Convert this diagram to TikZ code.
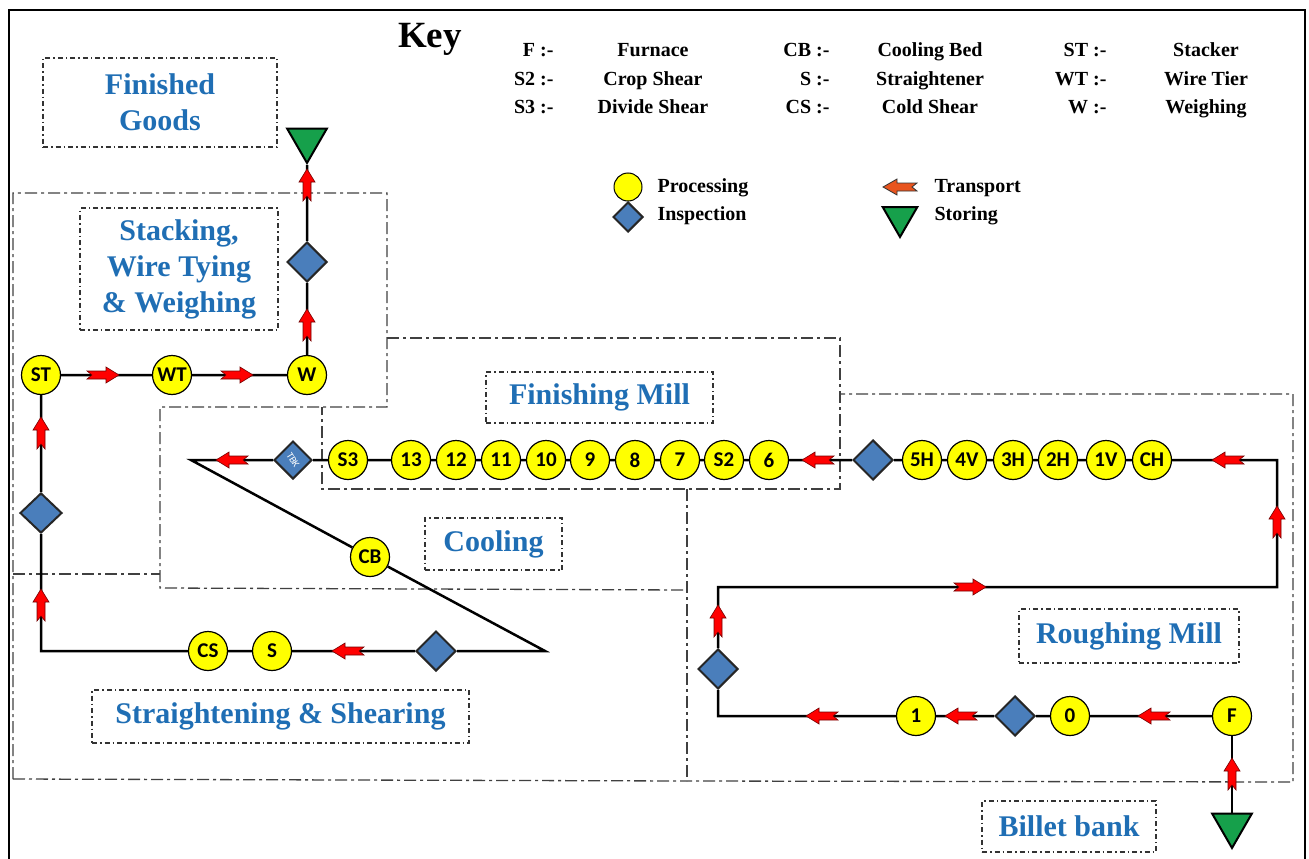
\documentclass[tikz,border=0pt]{standalone}
\usepackage{fontspec}
\setmainfont{Liberation Serif}
\newfontfamily\calib{Carlito}
\usetikzlibrary{shapes.geometric}

\definecolor{procyel}{RGB}{255,255,0}
\definecolor{inspblue}{RGB}{74,126,187}
\definecolor{storgreen}{RGB}{22,160,75}
\definecolor{lblblue}{RGB}{31,110,180}
\definecolor{arrred}{RGB}{255,0,0}
\definecolor{keyorange}{RGB}{232,84,30}

\tikzset{
  proc/.style={circle, draw=black, line width=1.2pt, fill=procyel, minimum size=39pt, inner sep=0pt,
    font=\calib\bfseries\fontsize{21}{21}\selectfont},
  insp/.style={diamond, draw=black!85, line width=2pt, fill=inspblue, minimum width=40pt, minimum height=40pt, inner sep=0pt},
  stor/.style={regular polygon, regular polygon sides=3, shape border rotate=180, draw=black, line width=2pt,
    fill=storgreen, minimum size=46pt, inner sep=0pt},
  flow/.style={line width=2.5pt, black},
  region/.style={draw=black!75, line width=1.3pt, dash pattern=on 12pt off 4pt on 3pt off 4pt},
  lblbox/.style={draw=black!80, line width=1.1pt, dash pattern=on 5pt off 3pt on 1.5pt off 3pt, text=lblblue,
    font=\bfseries\fontsize{30}{36}\selectfont, align=center, inner sep=0pt},
  keytxt/.style={font=\bfseries\fontsize{20}{20}\selectfont},
  transp/.pic={\draw[draw=red!45!black, line width=.6pt, fill=arrred]
    (-16,-4) -- (3,-4) -- (3,-8) -- (16,0) -- (3,8) -- (3,4) -- (-16,4) -- (-11,0) -- cycle;},
  keyarr/.pic={\draw[draw=black!80, line width=.8pt, fill=keyorange]
    (-17,-4) -- (3,-4) -- (3,-8) -- (17,0) -- (3,8) -- (3,4) -- (-17,4) -- (-12,0) -- cycle;}
}

\begin{document}
\begin{tikzpicture}[x=1pt,y=-1pt]
\useasboundingbox (0,0) rectangle (1309,859);
\draw[line width=2.5pt] (9,880) -- (9,10) -- (1305,10) -- (1305,880);

% key
\node[anchor=base, font=\bfseries\fontsize{37}{37}\selectfont] (key) at (430,48) {Key};
\foreach \ab/\nm/\y in {F/Furnace/57, S2/Crop Shear/85, S3/Divide Shear/113}{
  \node[keytxt, anchor=base east] (k\ab) at (557,\y) {\ab\ :-};
  \node[keytxt, anchor=base] (n\ab) at (653,\y) {\nm};}
\foreach \ab/\nm/\y in {CB/Cooling Bed/57, S/Straightener/85, CS/Cold Shear/113}{
  \node[keytxt, anchor=base east] (k\ab) at (833,\y) {\ab\ :-};
  \node[keytxt, anchor=base] (n\ab) at (930,\y) {\nm};}
\foreach \ab/\nm/\y in {ST/Stacker/57, WT/Wire Tier/85, W/Weighing/113}{
  \node[keytxt, anchor=base east] (k\ab) at (1110,\y) {\ab\ :-};
  \node[keytxt, anchor=base] (n\ab) at (1206,\y) {\nm};}

\node[proc, minimum size=28pt, line width=1pt] (lproc) at (628,187) {};
\node[insp, minimum width=30pt, minimum height=30pt] (linsp) at (628,217) {};
\node[keytxt, anchor=west] (tproc) at (654,188) {Processing};
\node[keytxt, anchor=west] (tinsp) at (654,216) {Inspection};
\pic[rotate=180] at (900,187) {keyarr};
\node[stor, minimum size=40pt] (lstor) at (900,217) {};
\node[keytxt, anchor=west] (ttransp) at (931,188) {Transport};
\node[keytxt, anchor=west] (tstor) at (931,216) {Storing};

% regions
\draw[region] (13,779) -- (13,193) -- (387,193) -- (387,407) -- (160,407) -- (160,588) -- (687,590);
\draw[region] (13,574) -- (160,574);
\draw[region] (13,779) -- (687,781) -- (1293,782) -- (1293,394) -- (840,394);
\draw[region] (387,338) -- (840,338) -- (840,489) -- (322,489) -- (322,407);
\draw[region] (687,489) -- (687,781);

\node[lblbox, minimum width=234pt, minimum height=89pt] (lfg) at (160,102.5) {Finished\\Goods};
\node[lblbox, minimum width=198pt, minimum height=122pt] (lst) at (179,269) {Stacking,\\Wire Tying\\\& Weighing};
\node[lblbox, minimum width=227pt, minimum height=51pt] (lfm) at (599.5,397.5) {Finishing Mill};
\node[lblbox, minimum width=137pt, minimum height=52pt] (lcool) at (493.5,544) {Cooling};
\node[lblbox, minimum width=377pt, minimum height=53pt] (lss) at (280.5,716.5) {Straightening \& Shearing};
\node[lblbox, minimum width=220pt, minimum height=54pt] (lrm) at (1129,636) {Roughing Mill};
\node[lblbox, minimum width=174pt, minimum height=51pt] (lbb) at (1069,826.5) {Billet bank};

% roughing mill
\node[stor] (BB) at (1232,825) {};
\node[proc] (F) at (1232,716) {F};
\node[proc] (r0) at (1070,716) {0};
\node[insp] (dr1) at (1015,716) {};
\node[proc] (r1) at (916,716) {1};
\coordinate (cr1) at (718,716);
\node[insp] (dr2) at (718,669) {};
\coordinate (cr2) at (718,587);
\coordinate (cr3) at (1277,587);
\coordinate (cr4) at (1277,460);
\foreach \n/\x in {CH/1152, 1V/1106, 2H/1058, 3H/1013, 4V/967, 5H/922}
  \node[proc] (r\n) at (\x,460) {\n};
\node[insp] (dfm) at (873,460) {};

% finishing mill
\foreach \n/\x in {6/769, S2/724, 7/680, 8/635, 9/590, 10/546, 11/501, 12/456, 13/411, S3/348}
  \node[proc] (m\n) at (\x,460) {\n};
\node[insp, minimum width=38pt, minimum height=38pt, text=white, font=\calib\fontsize{10}{10}\selectfont]
  (TBK) at (293,460) {\rotatebox{-58}{TBK}};

% cooling, straightening, stacking
\coordinate (cc1) at (191,460);
\node[proc] (CB) at (370,557) {CB};
\coordinate (cc2) at (545,651);
\node[insp] (dss) at (436,651) {};
\node[proc] (sS) at (272,651) {S};
\node[proc] (sCS) at (208,651) {CS};
\coordinate (cs1) at (41,651);
\node[insp, minimum width=42pt, minimum height=40pt] (dst) at (41,513) {};
\node[proc] (ST) at (41,375) {ST};
\node[proc] (WT) at (172,375) {WT};
\node[proc] (W) at (307,375) {W};
\node[insp] (dw) at (307,262) {};
\node[stor] (FG) at (307,140) {};

\draw[flow] (BB) -- (F);
\draw[flow] (F) -- (r0) -- (dr1) -- (r1) -- (cr1) -- (dr2) -- (cr2) -- (cr3) -- (cr4) -- (rCH) -- (r1V) -- (r2H)
  -- (r3H) -- (r4V) -- (r5H) -- (dfm) -- (m6) -- (mS2) -- (m7) -- (m8) -- (m9) -- (m10) -- (m11) -- (m12)
  -- (m13) -- (mS3) -- (TBK) -- (cc1) -- (CB) -- (cc2) -- (dss) -- (sS) -- (sCS) -- (cs1) -- (dst) -- (ST)
  -- (WT) -- (W) -- (dw) -- (FG);

% transport arrows
\pic[rotate=90] at (1232,774) {transp};
\pic[rotate=180] at (1154,716) {transp};
\pic[rotate=180] at (961,716) {transp};
\pic[rotate=180] at (822,716) {transp};
\pic[rotate=90] at (718,621) {transp};
\pic at (970,587) {transp};
\pic[rotate=90] at (1277,522) {transp};
\pic[rotate=180] at (1228,460) {transp};
\pic[rotate=180] at (818,460) {transp};
\pic[rotate=180] at (232,460) {transp};
\pic[rotate=180] at (348,651) {transp};
\pic[rotate=90] at (41,605) {transp};
\pic[rotate=90] at (41,433) {transp};
\pic at (103,375) {transp};
\pic at (237,375) {transp};
\pic[rotate=90] at (307,325) {transp};
\pic[rotate=90] at (307,185) {transp};
\end{tikzpicture}
\end{document}
